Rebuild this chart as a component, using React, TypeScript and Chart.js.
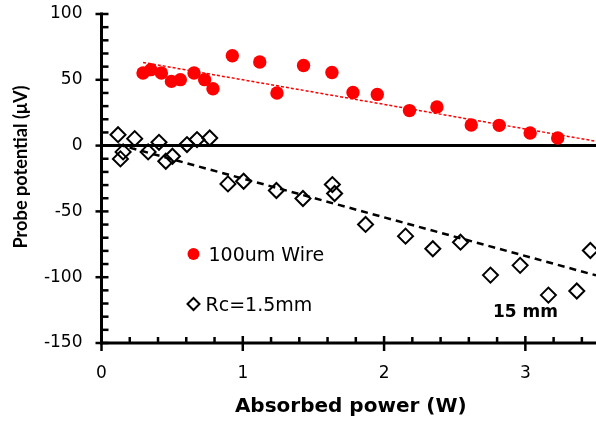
import React, { useEffect, useRef } from 'react';
import { Chart, registerables } from 'chart.js';

Chart.register(...registerables);

// 100um Wire (red filled circles)
const wireX = [0.294, 0.349, 0.424, 0.495, 0.558, 0.655, 0.73, 0.789, 0.926, 1.12, 1.242, 1.43, 1.631, 1.78, 1.952, 2.18, 2.374, 2.617, 2.815, 3.034, 3.229];
const wireY = [55.2, 57.7, 55.2, 48.8, 50.1, 55.2, 50.1, 43.2, 68.3, 63.5, 40.0, 60.9, 55.6, 40.4, 38.9, 26.6, 29.4, 15.7, 15.4, 9.6, 5.8];

// Rc=1.5mm (open diamonds)
const rcX = [0.117, 0.235, 0.134, 0.153, 0.33, 0.407, 0.455, 0.502, 0.605, 0.676, 0.766, 0.895, 1.006, 1.238, 1.426, 1.634, 1.65, 1.869, 2.152, 2.345, 2.541, 2.753, 2.963, 3.163, 3.364, 3.46];
const rcY = [8.3, 5.3, -10.1, -4.8, -4.8, 2.5, -11.9, -8.1, 0.8, 4.6, 5.8, -29.1, -27.1, -34.1, -40.2, -29.6, -36.4, -59.9, -68.8, -78.4, -73.4, -98.4, -91.0, -113.6, -110.5, -79.7];

// Linear trend lines (end points)
const wireTrendX = [0.294, 3.5];
const wireTrendY = [63.2, 3.3];
const rcTrendX = [0.117, 3.5];
const rcTrendY = [0.9, -98.6];

// Axes
const xMin = 0, xMax = 3.5, xStep = 1, xMinorStep = 0.2;
const yMin = -150, yMax = 100, yStep = 50, yMinorStep = 10;

const xTitle = 'Absorbed power (W)';
const yTitle = 'Probe potential (\u03BCV)';
const legendLabels = ['100um Wire', 'Rc=1.5mm'];
const note = '15 mm';

const toPts = (xs: number[], ys: number[]) => xs.map((x, i) => ({ x, y: ys[i] }));

const decor = {
  id: 'decor',
  beforeDatasetsDraw(chart: any) {
    const { ctx, chartArea } = chart;
    const xs = chart.scales.x;
    const ys = chart.scales.y;
    const ln = (a: number, b: number, c: number, d: number) => {
      ctx.beginPath();
      ctx.moveTo(a, b);
      ctx.lineTo(c, d);
      ctx.stroke();
    };
    ctx.save();
    ctx.strokeStyle = '#000';
    ctx.lineCap = 'butt';
    const xa = xs.getPixelForValue(0);
    const yb = ys.getPixelForValue(yMin);
    const yt = ys.getPixelForValue(yMax);
    const y0 = ys.getPixelForValue(0);
    ctx.lineWidth = 3;
    ln(xa, y0, chartArea.right, y0);
    ln(xa, yt - 1.5, xa, yb + 1.5);
    ln(xa - 1.5, yb, chartArea.right, yb);
    ctx.lineWidth = 2.5;
    const nY = Math.round((yMax - yMin) / yMinorStep);
    for (let i = 0; i <= nY; i++) {
      const v = yMin + i * yMinorStep;
      const p = ys.getPixelForValue(v);
      if (Math.abs(v % yStep) < 1e-6) ln(xa - 6, p, xa + 7, p);
      else ln(xa, p, xa + 7, p);
    }
    const nX = Math.round((xMax - xMin) / xMinorStep);
    for (let i = 0; i < nX; i++) {
      const v = xMin + i * xMinorStep;
      const p = xs.getPixelForValue(v);
      if (i % 5 === 0) ln(p, yb - 7, p, yb + 8);
      else ln(p, yb - 6, p, yb);
    }
    ctx.restore();
  },
  afterDatasetsDraw(chart: any) {
    const { ctx, chartArea } = chart;
    ctx.save();
    ctx.fillStyle = '#000';
    // x title
    ctx.font = 'bold 20px "DejaVu Sans"';
    ctx.textAlign = 'center';
    ctx.textBaseline = 'alphabetic';
    ctx.fillText(xTitle, (chartArea.left + chartArea.right) / 2 + 2, chartArea.bottom + 69);
    // y title
    ctx.save();
    ctx.translate(21, chartArea.top + 153);
    ctx.rotate(-Math.PI / 2);
    ctx.font = 'bold 18px Lato';
    const w = ctx.measureText(yTitle).width;
    ctx.scale(163 / w, 1);
    ctx.textAlign = 'center';
    ctx.textBaseline = 'middle';
    ctx.fillText(yTitle, 0, 0);
    ctx.restore();
    // legend
    const lx = chartArea.left + 92;
    ctx.beginPath();
    ctx.fillStyle = '#ff0000';
    ctx.arc(lx, 254, 6, 0, Math.PI * 2);
    ctx.fill();
    ctx.beginPath();
    ctx.strokeStyle = '#000';
    ctx.lineWidth = 2;
    ctx.moveTo(lx - 6, 304);
    ctx.lineTo(lx, 298);
    ctx.lineTo(lx + 6, 304);
    ctx.lineTo(lx, 310);
    ctx.closePath();
    ctx.stroke();
    ctx.fillStyle = '#000';
    ctx.font = '19px "DejaVu Sans"';
    ctx.textAlign = 'left';
    ctx.textBaseline = 'alphabetic';
    ctx.fillText(legendLabels[0], lx + 15, 261);
    ctx.fillText(legendLabels[1], lx + 12, 311);
    // note
    ctx.font = 'bold 17px "DejaVu Sans"';
    ctx.fillText(note, 493, 317);
    ctx.restore();
  },
};

export default function App() {
  const ref = useRef<HTMLCanvasElement>(null);
  useEffect(() => {
    if (!ref.current) return;
    const chart = new Chart(ref.current, {
      type: 'scatter',
      data: {
        datasets: [
          {
            type: 'line',
            label: 'wire trend',
            data: toPts(wireTrendX, wireTrendY),
            borderColor: '#ff0000',
            borderWidth: 1.5,
            borderDash: [3, 2],
            pointRadius: 0,
            fill: false,
          },
          {
            type: 'line',
            label: 'rc trend',
            data: toPts(rcTrendX, rcTrendY),
            borderColor: '#000',
            borderWidth: 2.5,
            borderDash: [7, 5],
            pointRadius: 0,
            fill: false,
          },
          {
            label: legendLabels[0],
            data: toPts(wireX, wireY),
            pointStyle: 'circle',
            pointRadius: 6.7,
            backgroundColor: '#ff0000',
            borderColor: '#ff0000',
            borderWidth: 0,
          },
          {
            label: legendLabels[1],
            data: toPts(rcX, rcY),
            pointStyle: 'rectRot',
            pointRadius: 7.5,
            backgroundColor: 'rgba(0,0,0,0)',
            borderColor: '#000',
            borderWidth: 2,
          },
        ],
      },
      options: {
        responsive: false,
        animation: false,
        events: [],
        layout: { autoPadding: false, padding: { top: 14, right: 0, left: 0, bottom: 0 } },
        plugins: { legend: { display: false }, tooltip: { enabled: false }, title: { display: false } },
        scales: {
          x: {
            type: 'linear',
            min: xMin,
            max: xMax,
            grid: { display: false, drawTicks: false },
            border: { display: false },
            ticks: {
              stepSize: xStep,
              includeBounds: false,
              padding: 20,
              color: '#000',
              font: { family: '"DejaVu Sans"', size: 17 },
              callback: (v: any) => (Number.isInteger(v) ? String(v) : ''),
            },
            afterFit: (s: any) => { s.height = 85; s.paddingLeft = 0; s.paddingRight = 0; },
          },
          y: {
            type: 'linear',
            min: yMin,
            max: yMax,
            grid: { display: false, drawTicks: false },
            border: { display: false },
            ticks: {
              stepSize: yStep,
              padding: 19,
              color: '#000',
              font: { family: '"DejaVu Sans"', size: 17 },
            },
            afterFit: (s: any) => { s.width = 101.5; s.paddingTop = 0; s.paddingBottom = 0; },
          },
        },
      } as any,
      plugins: [decor],
    });
    return () => chart.destroy();
  }, []);
  return (
    <div style={{ position: 'absolute', left: 0, top: 0, width: 596, height: 428, background: '#fff' }}>
      <canvas ref={ref} width={596} height={428} style={{ display: 'block' }} />
    </div>
  );
}
